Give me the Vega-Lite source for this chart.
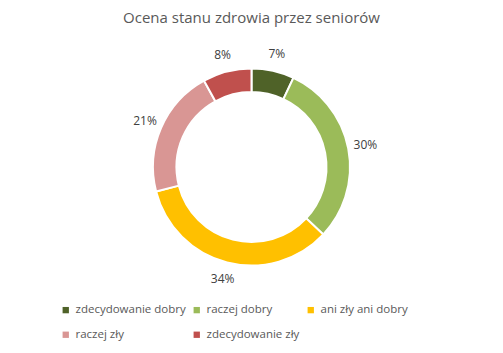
{
  "$schema": "https://vega.github.io/schema/vega-lite/v6.json",
  "width": 503,
  "height": 254,
  "autosize": "none",
  "padding": {"left": 0, "top": 40, "right": 0, "bottom": 59},
  "background": "white",
  "title": {
    "text": "Ocena stanu zdrowia przez seniorów",
    "font": "Open Sans",
    "fontSize": 15,
    "fontWeight": "normal",
    "color": "#595959",
    "anchor": "middle",
    "offset": 14
  },
  "data": {
    "values": [
      {"kategoria": "zdecydowanie dobry", "udzial": 0.07, "kolejnosc": 1},
      {"kategoria": "raczej dobry", "udzial": 0.30, "kolejnosc": 2},
      {"kategoria": "ani zły ani dobry", "udzial": 0.34, "kolejnosc": 3},
      {"kategoria": "raczej zły", "udzial": 0.21, "kolejnosc": 4},
      {"kategoria": "zdecydowanie zły", "udzial": 0.08, "kolejnosc": 5}
    ]
  },
  "encoding": {
    "theta": {"field": "udzial", "type": "quantitative", "stack": true},
    "order": {"field": "kolejnosc", "type": "quantitative"}
  },
  "layer": [
    {
      "mark": {"type": "arc", "innerRadius": 75, "outerRadius": 98.5, "stroke": "white", "strokeWidth": 2},
      "encoding": {
        "color": {
          "field": "kategoria",
          "type": "nominal",
          "sort": ["zdecydowanie dobry", "raczej dobry", "ani zły ani dobry", "raczej zły", "zdecydowanie zły"],
          "scale": {
            "domain": ["zdecydowanie dobry", "raczej dobry", "ani zły ani dobry", "raczej zły", "zdecydowanie zły"],
            "range": ["#4F6228", "#9BBB59", "#FFC000", "#D99694", "#C0504D"]
          },
          "legend": {
            "orient": "none",
            "legendX": 60,
            "legendY": 264,
            "direction": "horizontal",
            "columns": 3,
            "title": null,
            "symbolType": "square",
            "symbolSize": 40,
            "symbolStrokeWidth": 0,
            "labelFont": "Open Sans",
            "labelFontSize": 11.5,
            "labelColor": "#595959",
            "columnPadding": 5,
            "rowPadding": 12
          }
        }
      }
    },
    {
      "mark": {"type": "text", "radius": 116, "font": "Open Sans", "fontSize": 12, "color": "#404040"},
      "encoding": {
        "text": {"field": "udzial", "type": "quantitative", "format": ".0%"}
      }
    }
  ]
}
